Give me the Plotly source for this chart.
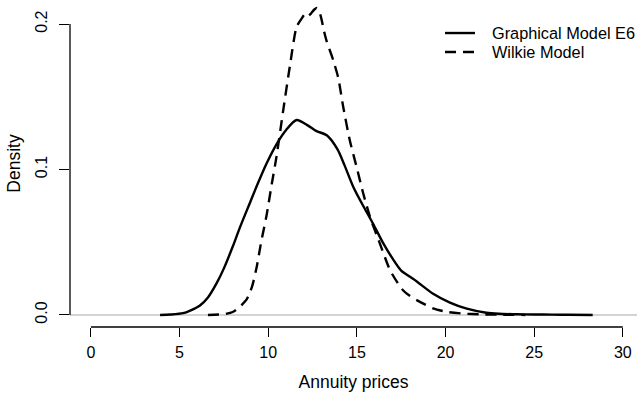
import plotly.graph_objects as go

# ---- data ----
series_names = ["Graphical Model E6", "Wilkie Model"]

gm_x = [3.9, 4.5, 5.2, 5.6, 6.15, 6.6, 7.1, 7.5, 8.0, 8.4, 9.0, 9.4, 9.9, 10.5, 11.0,
        11.6, 12.2, 12.7, 13.3, 13.9, 14.3, 14.8, 15.4, 15.9, 16.5, 17.0, 17.5, 18.0,
        18.4, 19.3, 20.25, 21.2, 22.3, 23.0, 24.0, 25.0, 26.0, 27.0, 28.3]
gm_d = [0.0, 0.0003, 0.0012, 0.003, 0.0065, 0.012, 0.022, 0.032, 0.047, 0.060, 0.078,
        0.090, 0.104, 0.118, 0.127, 0.134, 0.1305, 0.1265, 0.1235, 0.114, 0.103, 0.088,
        0.074, 0.063, 0.049, 0.039, 0.0305, 0.0262, 0.0228, 0.0146, 0.0085, 0.0043,
        0.0015, 0.0008, 0.0005, 0.0003, 0.0002, 0.0001, 0.0]

wk_x = [6.6, 7.5, 8.0, 8.4, 8.8, 9.1, 9.35, 9.6, 9.9, 10.2, 10.47, 10.85, 11.22, 11.6,
        11.9, 12.05, 12.2, 12.4, 12.6, 12.75, 12.95, 13.15, 13.3, 13.67, 13.95, 14.23,
        14.6, 15.0, 15.36, 15.74, 16.3, 16.86, 17.3, 17.6, 18.0, 18.4, 19.3, 20.1, 21.0,
        22.0, 23.0, 24.5]
wk_d = [0.0, 0.0005, 0.002, 0.0055, 0.011, 0.020, 0.033, 0.050, 0.068, 0.090, 0.109,
        0.141, 0.171, 0.198, 0.204, 0.2065, 0.205, 0.207, 0.210, 0.211, 0.206, 0.195,
        0.188, 0.175, 0.163, 0.143, 0.120, 0.101, 0.0835, 0.0674, 0.049, 0.031, 0.022,
        0.017, 0.013, 0.010, 0.0045, 0.002, 0.0009, 0.0004, 0.0002, 0.0]

x_ticks = [0, 5, 10, 15, 20, 25, 30]
y_ticks = [0.0, 0.1, 0.2]
y_tick_text = ["0.0", "0.1", "0.2"]

FONT = "Liberation Sans, Arial, Helvetica, sans-serif"
LW = 2.4
DASH = "11px,7px"

fig = go.Figure()

fig.add_trace(go.Scatter(x=gm_x, y=gm_d, mode="lines", name=series_names[0],
                         line=dict(color="black", width=LW, shape="spline", smoothing=0.8),
                         showlegend=False))
fig.add_trace(go.Scatter(x=wk_x, y=wk_d, mode="lines", name=series_names[1],
                         line=dict(color="black", width=LW, dash=DASH, shape="spline", smoothing=0.6),
                         showlegend=False))

shapes = []
# zero line (gray, across plot region)
shapes.append(dict(type="line", xref="paper", yref="y", x0=0, x1=1, y0=0, y1=0,
                   line=dict(color="#c4c4c4", width=1.4), layer="below"))
# x axis line between first and last tick
shapes.append(dict(type="line", xref="x", yref="paper", x0=min(x_ticks), x1=max(x_ticks),
                   y0=0, y1=0, line=dict(color="black", width=1.3)))
# y axis line between first and last tick
shapes.append(dict(type="line", xref="paper", yref="y", x0=0, x1=0,
                   y0=min(y_ticks), y1=max(y_ticks), line=dict(color="black", width=1.3)))

# manual legend (R-style)
leg_x0, leg_x1, leg_tx = 0.6614, 0.7143, 0.7407
leg_ys = [0.899, 0.841]
leg_dash = ["solid", DASH]
annotations = []
for name, yy, ds in zip(series_names, leg_ys, leg_dash):
    shapes.append(dict(type="line", xref="paper", yref="paper", x0=leg_x0, x1=leg_x1,
                       y0=yy, y1=yy, line=dict(color="black", width=LW, dash=ds)))
    annotations.append(dict(xref="paper", yref="paper", x=leg_tx, y=yy, text=name,
                            showarrow=False, xanchor="left", yanchor="middle",
                            font=dict(family=FONT, size=16.3, color="black")))

fig.update_layout(
    width=637, height=395,
    margin=dict(l=70, r=0, t=0, b=68),
    paper_bgcolor="white", plot_bgcolor="white",
    font=dict(family=FONT, size=16, color="black"),
    shapes=shapes, annotations=annotations,
    xaxis=dict(range=[-1.18, 30.80], tickmode="array", tickvals=x_ticks,
               ticks="outside", ticklen=9, tickwidth=1.3, tickcolor="black",
               showgrid=False, zeroline=False, showline=False,
               tickfont=dict(family=FONT, size=16), ticklabelstandoff=2,
               title=dict(text="Annuity prices", standoff=15,
                          font=dict(family=FONT, size=17.5))),
    yaxis=dict(range=[-0.0083, 0.2165], tickmode="array", tickvals=y_ticks,
               ticktext=y_tick_text, tickangle=-90,
               ticks="outside", ticklen=10, tickwidth=1.3, tickcolor="black",
               showgrid=False, zeroline=False, showline=False,
               tickfont=dict(family=FONT, size=16), ticklabelstandoff=6,
               title=dict(text="Density", standoff=7,
                          font=dict(family=FONT, size=17.5))),
)

fig.write_html("out.html")
